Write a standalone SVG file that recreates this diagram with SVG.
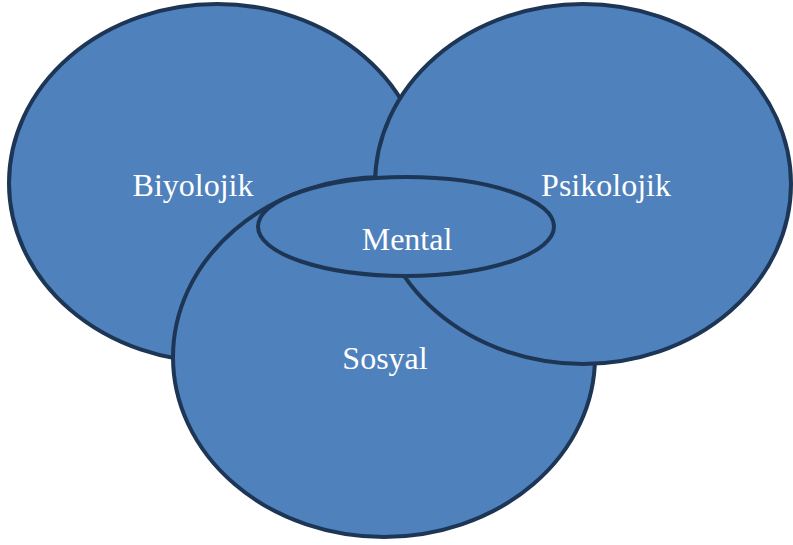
<svg xmlns="http://www.w3.org/2000/svg" width="793" height="545" viewBox="0 0 793 545">
<style>
.n{fill:#4f81bd;stroke:#1d3656;stroke-width:4}
.t{font-family:"Liberation Serif","Times New Roman",serif;font-size:32px;fill:#ffffff;text-anchor:middle}
</style>
<rect width="793" height="545" fill="#ffffff"/>
<g id="biyolojik">
<ellipse class="n" cx="217" cy="183" rx="208" ry="179"/>
<text class="t" x="193" y="196">Biyolojik</text>
</g>
<g id="sosyal">
<ellipse class="n" cx="384" cy="357" rx="211" ry="180"/>
</g>
<g id="psikolojik">
<ellipse class="n" cx="583" cy="184" rx="208" ry="180"/>
<text class="t" x="606" y="196">Psikolojik</text>
</g>
<g id="sosyal-label">
<text class="t" x="385" y="369">Sosyal</text>
</g>
<g id="mental">
<ellipse class="n" cx="406" cy="226.5" rx="148" ry="49.5"/>
<text class="t" x="407" y="250">Mental</text>
</g>
<g id="connectors"/>
</svg>
